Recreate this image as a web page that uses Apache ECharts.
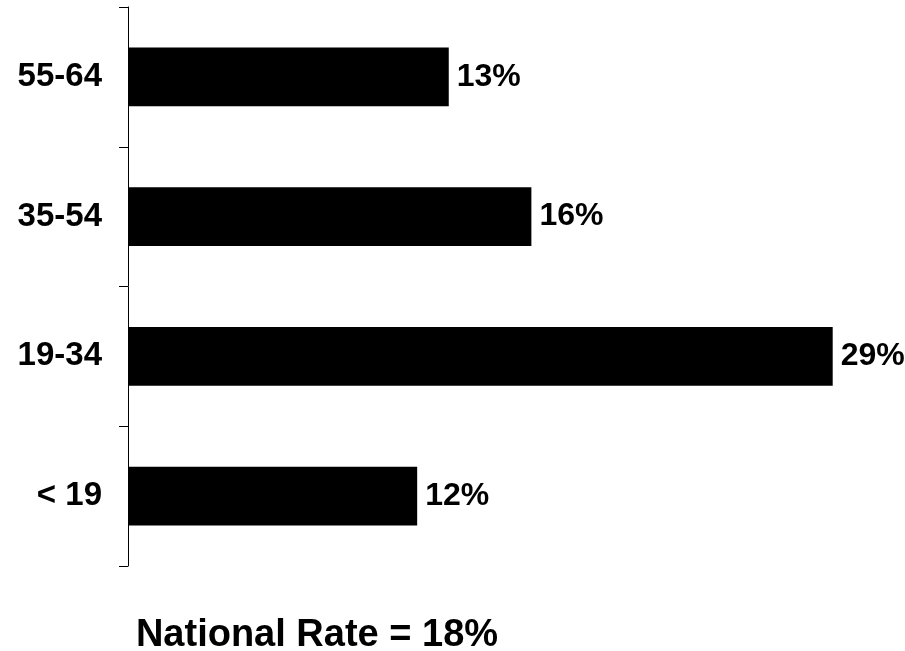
<!DOCTYPE html>
<html>
<head>
<meta charset="utf-8">
<script src="https://cdn.jsdelivr.net/npm/echarts@6/dist/echarts.min.js"></script>
<style>html,body{margin:0;padding:0;background:#fff;}#c{width:905px;height:651px;}</style>
</head>
<body>
<div id="c"></div>
<script>
const categories = ['< 19', '19-34', '35-54', '55-64'];
const values = [11.9, 29.0, 16.6, 13.2];
const valueLabels = ['12%', '29%', '16%', '13%'];
const footnote = 'National Rate = 18%';

const chart = echarts.init(document.getElementById('c'), null, {renderer: 'canvas'});
const FONT = 'Liberation Sans, Arial, sans-serif';
chart.setOption({
  animation: false,
  backgroundColor: '#fff',
  grid: {left: 128, top: 7, bottom: 85, right: 48, containLabel: false},
  title: {
    text: footnote,
    left: 312, textAlign: 'center', top: 612,
    textStyle: {fontFamily: FONT, fontWeight: 'bold', fontSize: 38, color: '#000'}
  },
  xAxis: {
    type: 'value', min: 0, max: 30, show: false
  },
  yAxis: {
    type: 'category', data: categories,
    axisLine: {lineStyle: {color: '#000', width: 1}},
    axisTick: {show: true, inside: false, length: 9, lineStyle: {color: '#000', width: 1}},
    axisLabel: {margin: 26, fontFamily: FONT, fontWeight: 'bold', fontSize: 33, color: '#000'},
    splitLine: {show: false}
  },
  series: [{
    type: 'bar',
    data: values,
    barCategoryGap: '58%',
    itemStyle: {color: '#000'},
    label: {
      show: true, position: 'right', distance: 8,
      formatter: p => valueLabels[p.dataIndex],
      fontFamily: FONT, fontWeight: 'bold', fontSize: 32, color: '#000'
    }
  }]
});
</script>
</body>
</html>
